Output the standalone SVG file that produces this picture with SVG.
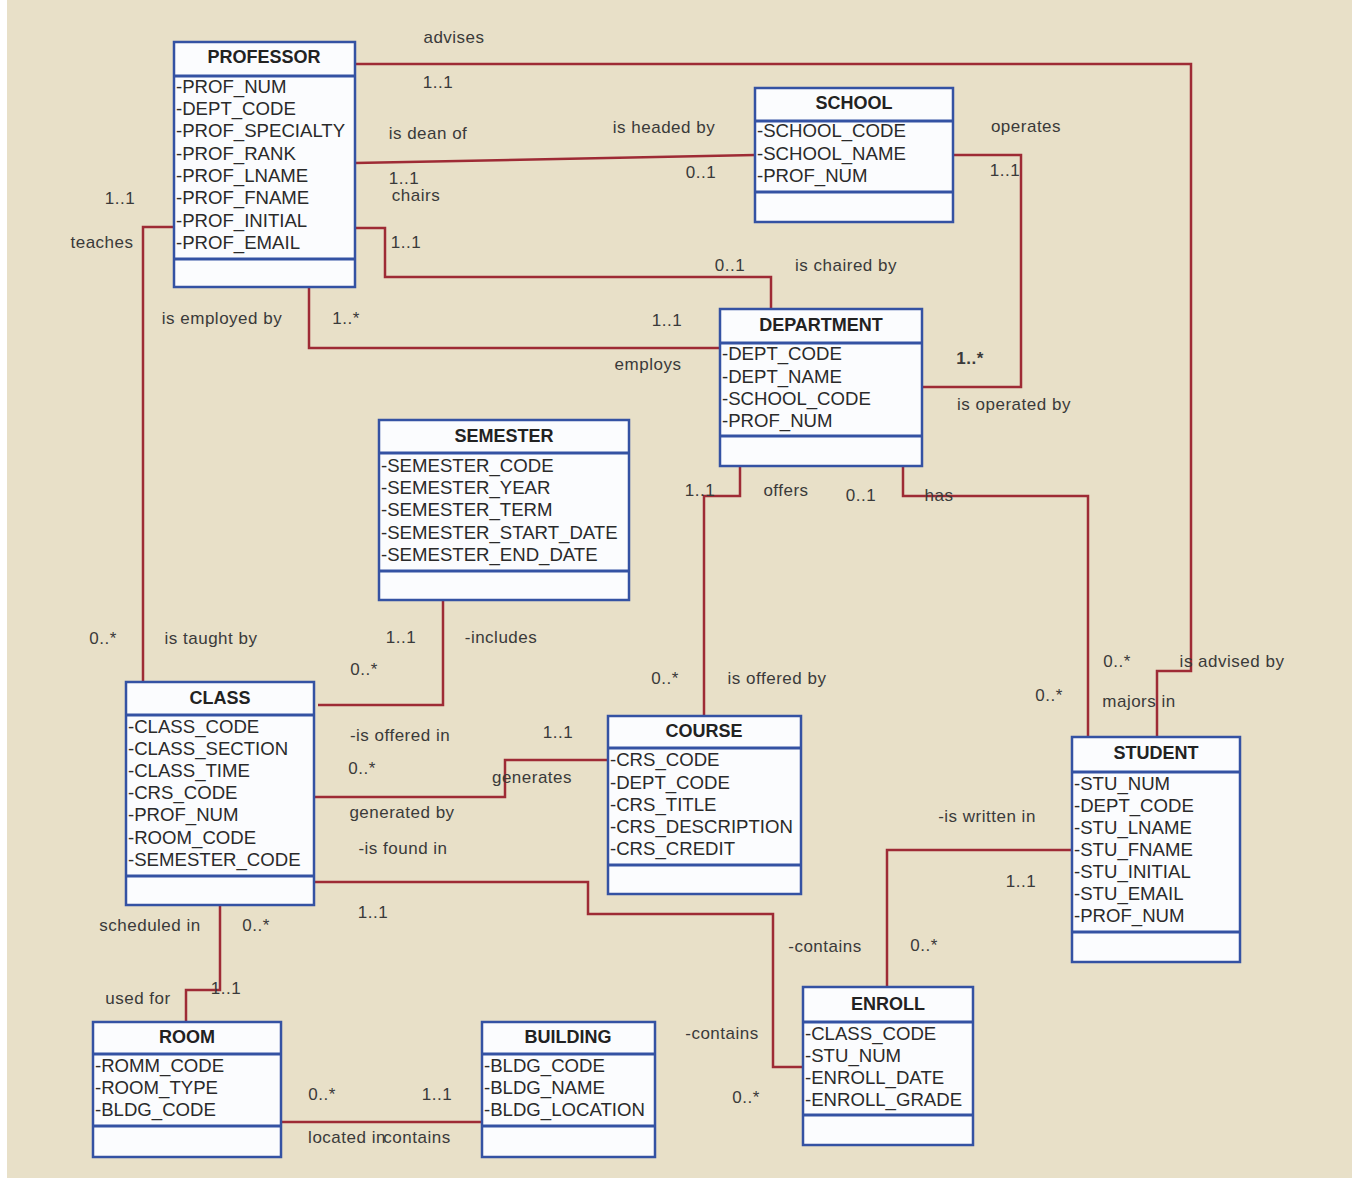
<svg xmlns="http://www.w3.org/2000/svg" width="1352" height="1181" viewBox="0 0 1352 1181">
<style>
.bg{fill:#e8e0c8}
.box{fill:#fbfcfe;stroke:#3452a3;stroke-width:2.5}
.sep{stroke:#3452a3;stroke-width:3}
.hdr{font-family:"Liberation Sans",Arial,sans-serif;font-size:18px;font-weight:bold;fill:#222;text-anchor:middle}
.attr{font-family:"Liberation Sans",Arial,sans-serif;font-size:18.6px;fill:#2a2a2a}
.lbl{font-family:"Liberation Sans",Arial,sans-serif;font-size:17px;fill:#3a3a3a;text-anchor:middle;letter-spacing:0.5px}
.conn{fill:none;stroke:#9e2b35;stroke-width:2.5}
</style>
<rect x="0" y="0" width="1352" height="1181" fill="#ffffff"/>
<rect class="bg" x="7" y="0" width="1345" height="1178"/>

<g id="connectors">
<polyline class="conn" points="355,64 1191,64 1191,671 1157,671 1157,737"/>
<polyline class="conn" points="355,163 755,155"/>
<polyline class="conn" points="355,228 385,228 385,277 771,277 771,309"/>
<polyline class="conn" points="953,155 1021,155 1021,387 922,387"/>
<polyline class="conn" points="309,287 309,348 720,348"/>
<polyline class="conn" points="174,227 143,227 143,682"/>
<polyline class="conn" points="443,600 443,705 318,705"/>
<polyline class="conn" points="740,466 740,496 704,496 704,716"/>
<polyline class="conn" points="903,466 903,496 1088,496 1088,737"/>
<polyline class="conn" points="608,760 505,760 505,797 314,797"/>
<polyline class="conn" points="314,882 588,882 588,914 773,914 773,1067 803,1067"/>
<polyline class="conn" points="1072,850 887,850 887,987"/>
<polyline class="conn" points="220,905 220,990 186,990 186,1022"/>
<polyline class="conn" points="281,1122 482,1122"/>
</g>

<g id="labels">
<text class="lbl" x="454" y="43">advises</text>
<text class="lbl" x="438" y="88">1..1</text>
<text class="lbl" x="428" y="139">is dean of</text>
<text class="lbl" x="664" y="133">is headed by</text>
<text class="lbl" x="404" y="184">1..1</text>
<text class="lbl" x="416" y="201">chairs</text>
<text class="lbl" x="701" y="178">0..1</text>
<text class="lbl" x="1026" y="132">operates</text>
<text class="lbl" x="1005" y="176">1..1</text>
<text class="lbl" x="406" y="248">1..1</text>
<text class="lbl" x="730" y="271">0..1</text>
<text class="lbl" x="846" y="271">is chaired by</text>
<text class="lbl" x="120" y="204">1..1</text>
<text class="lbl" x="102" y="248">teaches</text>
<text class="lbl" x="222" y="324">is employed by</text>
<text class="lbl" x="346" y="324">1..*</text>
<text class="lbl" x="667" y="326">1..1</text>
<text class="lbl" x="648" y="370">employs</text>
<text class="lbl" x="970" y="364" font-weight="bold">1..*</text>
<text class="lbl" x="1014" y="410">is operated by</text>
<text class="lbl" x="700" y="496">1..1</text>
<text class="lbl" x="786" y="496">offers</text>
<text class="lbl" x="861" y="501">0..1</text>
<text class="lbl" x="939" y="501">has</text>
<text class="lbl" x="103" y="644">0..*</text>
<text class="lbl" x="211" y="644">is taught by</text>
<text class="lbl" x="401" y="643">1..1</text>
<text class="lbl" x="501" y="643">-includes</text>
<text class="lbl" x="364" y="675">0..*</text>
<text class="lbl" x="665" y="684">0..*</text>
<text class="lbl" x="777" y="684">is offered by</text>
<text class="lbl" x="1117" y="667">0..*</text>
<text class="lbl" x="1232" y="667">is advised by</text>
<text class="lbl" x="1049" y="701">0..*</text>
<text class="lbl" x="1139" y="707">majors in</text>
<text class="lbl" x="400" y="741">-is offered in</text>
<text class="lbl" x="558" y="738">1..1</text>
<text class="lbl" x="362" y="774">0..*</text>
<text class="lbl" x="532" y="783">generates</text>
<text class="lbl" x="402" y="818">generated by</text>
<text class="lbl" x="987" y="822">-is written in</text>
<text class="lbl" x="403" y="854">-is found in</text>
<text class="lbl" x="1021" y="887">1..1</text>
<text class="lbl" x="373" y="918">1..1</text>
<text class="lbl" x="150" y="931">scheduled in</text>
<text class="lbl" x="256" y="931">0..*</text>
<text class="lbl" x="825" y="952">-contains</text>
<text class="lbl" x="924" y="951">0..*</text>
<text class="lbl" x="138" y="1004">used for</text>
<text class="lbl" x="226" y="994">1..1</text>
<text class="lbl" x="722" y="1039">-contains</text>
<text class="lbl" x="322" y="1100">0..*</text>
<text class="lbl" x="437" y="1100">1..1</text>
<text class="lbl" x="746" y="1103">0..*</text>
<text class="lbl" x="347" y="1143">located in</text>
<text class="lbl" x="417" y="1143">contains</text>
</g>

<g id="professor">
<rect class="box" x="174" y="42" width="181" height="245"/>
<line class="sep" x1="174" y1="76" x2="355" y2="76"/>
<line class="sep" x1="174" y1="259" x2="355" y2="259"/>
<text class="hdr" x="264" y="63">PROFESSOR</text>
<text class="attr" x="176" y="93">-PROF_NUM</text>
<text class="attr" x="176" y="115">-DEPT_CODE</text>
<text class="attr" x="176" y="137">-PROF_SPECIALTY</text>
<text class="attr" x="176" y="160">-PROF_RANK</text>
<text class="attr" x="176" y="182">-PROF_LNAME</text>
<text class="attr" x="176" y="204">-PROF_FNAME</text>
<text class="attr" x="176" y="227">-PROF_INITIAL</text>
<text class="attr" x="176" y="249">-PROF_EMAIL</text>
</g>

<g id="school">
<rect class="box" x="755" y="88" width="198" height="134"/>
<line class="sep" x1="755" y1="121" x2="953" y2="121"/>
<line class="sep" x1="755" y1="192" x2="953" y2="192"/>
<text class="hdr" x="854" y="109">SCHOOL</text>
<text class="attr" x="757" y="137">-SCHOOL_CODE</text>
<text class="attr" x="757" y="160">-SCHOOL_NAME</text>
<text class="attr" x="757" y="182">-PROF_NUM</text>
</g>

<g id="department">
<rect class="box" x="720" y="309" width="202" height="157"/>
<line class="sep" x1="720" y1="343" x2="922" y2="343"/>
<line class="sep" x1="720" y1="436" x2="922" y2="436"/>
<text class="hdr" x="821" y="331">DEPARTMENT</text>
<text class="attr" x="722" y="360">-DEPT_CODE</text>
<text class="attr" x="722" y="383">-DEPT_NAME</text>
<text class="attr" x="722" y="405">-SCHOOL_CODE</text>
<text class="attr" x="722" y="427">-PROF_NUM</text>
</g>

<g id="semester">
<rect class="box" x="379" y="420" width="250" height="180"/>
<line class="sep" x1="379" y1="453" x2="629" y2="453"/>
<line class="sep" x1="379" y1="571" x2="629" y2="571"/>
<text class="hdr" x="504" y="442">SEMESTER</text>
<text class="attr" x="381" y="472">-SEMESTER_CODE</text>
<text class="attr" x="381" y="494">-SEMESTER_YEAR</text>
<text class="attr" x="381" y="516">-SEMESTER_TERM</text>
<text class="attr" x="381" y="539">-SEMESTER_START_DATE</text>
<text class="attr" x="381" y="561">-SEMESTER_END_DATE</text>
</g>

<g id="class">
<rect class="box" x="126" y="682" width="188" height="223"/>
<line class="sep" x1="126" y1="715" x2="314" y2="715"/>
<line class="sep" x1="126" y1="876" x2="314" y2="876"/>
<text class="hdr" x="220" y="704">CLASS</text>
<text class="attr" x="128" y="733">-CLASS_CODE</text>
<text class="attr" x="128" y="755">-CLASS_SECTION</text>
<text class="attr" x="128" y="777">-CLASS_TIME</text>
<text class="attr" x="128" y="799">-CRS_CODE</text>
<text class="attr" x="128" y="821">-PROF_NUM</text>
<text class="attr" x="128" y="844">-ROOM_CODE</text>
<text class="attr" x="128" y="866">-SEMESTER_CODE</text>
</g>

<g id="course">
<rect class="box" x="608" y="716" width="193" height="178"/>
<line class="sep" x1="608" y1="748" x2="801" y2="748"/>
<line class="sep" x1="608" y1="865" x2="801" y2="865"/>
<text class="hdr" x="704" y="737">COURSE</text>
<text class="attr" x="610" y="766">-CRS_CODE</text>
<text class="attr" x="610" y="789">-DEPT_CODE</text>
<text class="attr" x="610" y="811">-CRS_TITLE</text>
<text class="attr" x="610" y="833">-CRS_DESCRIPTION</text>
<text class="attr" x="610" y="855">-CRS_CREDIT</text>
</g>

<g id="student">
<rect class="box" x="1072" y="737" width="168" height="225"/>
<line class="sep" x1="1072" y1="772" x2="1240" y2="772"/>
<line class="sep" x1="1072" y1="932" x2="1240" y2="932"/>
<text class="hdr" x="1156" y="759">STUDENT</text>
<text class="attr" x="1074" y="790">-STU_NUM</text>
<text class="attr" x="1074" y="812">-DEPT_CODE</text>
<text class="attr" x="1074" y="834">-STU_LNAME</text>
<text class="attr" x="1074" y="856">-STU_FNAME</text>
<text class="attr" x="1074" y="878">-STU_INITIAL</text>
<text class="attr" x="1074" y="900">-STU_EMAIL</text>
<text class="attr" x="1074" y="922">-PROF_NUM</text>
</g>

<g id="room">
<rect class="box" x="93" y="1022" width="188" height="135"/>
<line class="sep" x1="93" y1="1054" x2="281" y2="1054"/>
<line class="sep" x1="93" y1="1126" x2="281" y2="1126"/>
<text class="hdr" x="187" y="1043">ROOM</text>
<text class="attr" x="95" y="1072">-ROMM_CODE</text>
<text class="attr" x="95" y="1094">-ROOM_TYPE</text>
<text class="attr" x="95" y="1116">-BLDG_CODE</text>
</g>

<g id="building">
<rect class="box" x="482" y="1022" width="173" height="135"/>
<line class="sep" x1="482" y1="1054" x2="655" y2="1054"/>
<line class="sep" x1="482" y1="1126" x2="655" y2="1126"/>
<text class="hdr" x="568" y="1043">BUILDING</text>
<text class="attr" x="484" y="1072">-BLDG_CODE</text>
<text class="attr" x="484" y="1094">-BLDG_NAME</text>
<text class="attr" x="484" y="1116">-BLDG_LOCATION</text>
</g>

<g id="enroll">
<rect class="box" x="803" y="987" width="170" height="158"/>
<line class="sep" x1="803" y1="1022" x2="973" y2="1022"/>
<line class="sep" x1="803" y1="1115" x2="973" y2="1115"/>
<text class="hdr" x="888" y="1010">ENROLL</text>
<text class="attr" x="805" y="1040">-CLASS_CODE</text>
<text class="attr" x="805" y="1062">-STU_NUM</text>
<text class="attr" x="805" y="1084">-ENROLL_DATE</text>
<text class="attr" x="805" y="1106">-ENROLL_GRADE</text>
</g>
</svg>
